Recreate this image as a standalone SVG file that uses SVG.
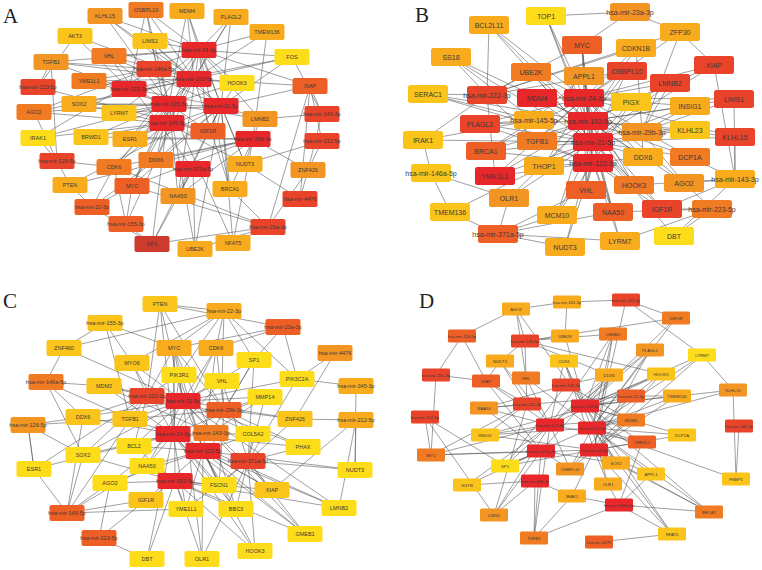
<svg xmlns="http://www.w3.org/2000/svg" xmlns:xlink="http://www.w3.org/1999/xlink" width="762" height="570" viewBox="0 0 762 570">
<style>
.r1{fill:#e8272a}.r2{fill:#e9432a}.o1{fill:#ee5f25}.o2{fill:#f07b22}.o3{fill:#f39523}.y1{fill:#f8ab1d}.y2{fill:#fbc41b}.y3{fill:#fddc19}.sp{fill:#cc3b2c}
text{font-family:"Liberation Sans",Arial,sans-serif;text-anchor:middle;fill:#3a3a3a}
.tA{font-size:5.5px}.tB{font-size:7px}.tD{font-size:4.2px}
.lab{font-family:"Liberation Serif","Times New Roman",serif;font-size:21px;fill:#222;text-anchor:start}
#edges path{fill:none;stroke:#505050;stroke-width:.55}
</style>
<defs>
<rect id="bA" x="-17.5" y="-8" width="35" height="16" rx="2"/>
<rect id="bB" x="-20" y="-9" width="40" height="18" rx="2.5"/>
<rect id="bD" x="-14" y="-6.5" width="28" height="13" rx="1.5"/>
</defs>
<rect width="762" height="570" fill="#fff"/>
<text class="lab" x="3" y="23">A</text>
<text class="lab" x="415" y="22">B</text>
<text class="lab" x="3" y="308">C</text>
<text class="lab" x="419" y="308">D</text>
<g id="edges">
<path id="edgesA" d="M105 16L194 79M105 16L169 104M105 16L221 106M105 16L199 50
M146 10L199 50M146 10L194 79M146 10L169 104M146 10L167 123M146 10L129 89
M187 11L199 50M187 11L194 79M187 11L221 106M187 11L169 104
M231 17L199 50M231 17L194 79M231 17L221 106M231 17L167 123
M75 36L38 87M75 36L129 89M75 36L194 79
M150 41L199 50M150 41L169 104M150 41L221 106M150 41L194 79
M267 32L199 50M267 32L194 79M267 32L253 139
M292 57L199 50M292 57L194 79M292 57L221 106M292 57L129 89M292 57L322 114
M109 56L199 50M109 56L194 79M109 56L169 104M109 56L221 106M109 56L193 169
M51 62L199 50M51 62L194 79M51 62L154 69M51 62L38 87M51 62L169 104
M89 81L194 79M89 81L169 104M89 81L221 106M89 81L154 69
M237 83L199 50M237 83L194 79M237 83L169 104M237 83L221 106
M310 86L199 50M310 86L194 79M310 86L322 114M310 86L322 141M310 86L221 106
M79 104L194 79M79 104L169 104M79 104L167 123M79 104L221 106
M34 112L194 79M34 112L169 104M34 112L199 50M34 112L167 123
M119 113L199 50M119 113L169 104M119 113L221 106
M260 119L199 50M260 119L169 104M260 119L221 106M260 119L253 139M260 119L322 114
M208 131L199 50M208 131L169 104M208 131L221 106M208 131L167 123M208 131L38 87
M38 138L154 69M38 138L167 123M38 138L169 104
M91 137L169 104M91 137L167 123M91 137L253 139
M130 139L199 50M130 139L194 79M130 139L221 106M130 139L167 123M130 139L253 139
M156 160L199 50M156 160L169 104M156 160L221 106M156 160L194 79M156 160L253 139
M114 167L253 139M114 167L169 104M114 167L167 123M114 167L194 79M114 167L57 161
M245 164L199 50M245 164L253 139M245 164L221 106M245 164L167 123M245 164L322 141
M308 170L253 139M308 170L322 114M308 170L322 141M308 170L300 199
M70 185L221 106M70 185L253 139M70 185L92 207M70 185L57 161
M132 186L199 50M132 186L169 104M132 186L221 106M132 186L167 123M132 186L253 139M132 186L92 207M132 186L126 224
M230 189L199 50M230 189L221 106M230 189L194 79M230 189L253 139M230 189L268 227
M178 196L199 50M178 196L169 104M178 196L221 106M178 196L253 139M178 196L193 169
M152 244L92 207M152 244L126 224M152 244L221 106M152 244L169 104M152 244L193 169M152 244L268 227
M195 249L221 106M195 249L169 104M195 249L193 169M195 249L268 227
M233 243L221 106M233 243L169 104M233 243L253 139M233 243L268 227
M300 199L310 86M300 199L245 164
M268 227L310 86M268 227L114 167M268 227L132 186M268 227L308 170
M57 161L51 62M57 161L34 112M57 161L38 138
M92 207L114 167M92 207L156 160M126 224L156 160M126 224L114 167"/>
<path id="edgesB" d="M546 16L630 12M546 16L584 98M546 16L588 121M546 16L593 142
M630 12L680 32M630 12L582 45
M680 32L584 98M680 32L642 132M680 32L487 95M680 32L714 65
M489 25L487 95M489 25L584 98M489 25L588 121M489 25L593 142
M582 45L584 98M582 45L588 121M582 45L593 142M582 45L593 163M582 45L487 95
M636 48L487 95M636 48L584 98M636 48L588 121M636 48L642 132
M451 57L487 95M451 57L588 121M451 57L593 142M451 57L534 120
M714 65L584 98M714 65L588 121M714 65L735 179M714 65L593 142
M531 72L584 98M531 72L588 121M531 72L593 142M531 72L487 95
M584 76L588 121M584 76L593 142M584 76L593 163M584 76L534 120
M627 71L584 98M627 71L588 121M627 71L593 142M627 71L487 95
M670 83L584 98M670 83L588 121M670 83L593 142M670 83L642 132
M428 94L588 121M428 94L593 142M428 94L534 120M428 94L487 95
M537 98L584 98M537 98L588 121M537 98L593 142
M631 102L584 98M631 102L588 121M631 102L593 142M631 102L593 163
M734 99L584 98M734 99L588 121M734 99L735 179M734 99L642 132
M690 106L584 98M690 106L588 121M690 106L593 142M690 106L642 132
M480 124L584 98M480 124L588 121M480 124L593 142M480 124L593 163M480 124L534 120
M690 130L588 121M690 130L593 142M690 130L642 132
M735 137L584 98M735 137L588 121M735 137L593 142M735 137L735 179
M423 140L487 95M423 140L534 120M423 140L431 173M423 140L593 142
M537 141L584 98M537 141L588 121M537 141L593 142M537 141L593 163M537 141L487 95
M486 151L584 98M486 151L588 121M486 151L593 142M486 151L593 163M486 151L534 120
M643 157L584 98M643 157L588 121M643 157L593 142M643 157L593 163M643 157L642 132
M690 157L584 98M690 157L588 121M690 157L593 142M690 157L735 179
M544 166L584 98M544 166L588 121M544 166L593 142M544 166L593 163
M495 176L584 98M495 176L588 121M495 176L593 142M495 176L593 163M495 176L487 95
M634 185L584 98M634 185L588 121M634 185L593 142M634 185L593 163M634 185L735 179
M684 183L584 98M684 183L588 121M684 183L735 179M684 183L712 209M684 183L642 132
M586 190L584 98M586 190L588 121M586 190L593 142M586 190L593 163M586 190L498 234
M509 198L588 121M509 198L593 142M509 198L498 234M509 198L431 173
M450 212L431 173M450 212L498 234M450 212L593 142
M557 215L498 234M557 215L593 163M557 215L593 142M557 215L588 121
M613 212L584 98M613 212L593 163M613 212L593 142M613 212L498 234M613 212L712 209
M662 209L588 121M662 209L593 142M662 209L712 209M662 209L735 179M662 209L593 163
M565 247L498 234M565 247L593 163M565 247L593 142
M620 241L498 234M620 241L593 163M620 241L712 209M620 241L593 142
M674 236L712 209M674 236L735 179M674 236L593 142"/>
<path id="edgesC" d="M160 304L224 311M160 304L183 401M160 304L147 396M160 304L224 410M160 304L173 434M160 304L283 327
M224 311L174 348M224 311L216 348M224 311L254 360M224 311L179 375M224 311L222 381M224 311L297 379M224 311L64 348M224 311L132 363
M105 323L64 348M105 323L174 348M105 323L132 363M105 323L130 419
M283 327L216 348M283 327L297 379M283 327L254 360M283 327L174 348
M64 348L46 382M64 348L183 401M335 353L295 419M356 386L355 470M356 386L297 379
M174 348L183 401M174 348L147 396M174 348L224 410M174 348L173 434M174 348L203 451M174 348L211 433M174 348L175 481
M216 348L183 401M216 348L224 410M216 348L173 434M216 348L203 451
M132 363L183 401M132 363L147 396M132 363L173 434
M254 360L183 401M254 360L224 410M254 360L211 433M254 360L248 461
M179 375L183 401M179 375L147 396M179 375L173 434M179 375L203 451
M222 381L183 401M222 381L224 410M222 381L173 434M222 381L248 461
M297 379L183 401M297 379L248 461M297 379L335 353
M46 382L104 386M46 382L83 417M46 382L83 455M46 382L130 419
M104 386L183 401M104 386L147 396M104 386L173 434M104 386L211 433
M265 397L183 401M265 397L224 410M265 397L173 434M265 397L211 433M265 397L248 461
M83 417L183 401M83 417L147 396M83 417L173 434M83 417L28 425M83 417L67 513
M130 419L183 401M130 419L147 396M130 419L173 434M130 419L224 410M130 419L67 513
M295 419L356 420M295 419L183 401M295 419L224 410M295 419L248 461
M356 420L355 470M356 420L272 490M356 420L339 508
M28 425L83 455M28 425L34 469M28 425L130 419
M253 434L183 401M253 434L224 410M253 434L173 434M253 434L203 451M253 434L248 461
M134 446L183 401M134 446L173 434M134 446L203 451M134 446L175 481M134 446L147 396
M303 447L183 401M303 447L224 410M303 447L173 434M303 447L248 461
M83 455L183 401M83 455L147 396M83 455L173 434M83 455L67 513M83 455L175 481
M34 469L28 425M34 469L67 513M34 469L147 396M34 469L173 434
M147 466L183 401M147 466L173 434M147 466L203 451M147 466L175 481M147 466L67 513
M355 470L248 461M355 470L203 451
M110 483L173 434M110 483L203 451M110 483L175 481M110 483L67 513M110 483L99 538
M219 485L183 401M219 485L173 434M219 485L203 451M219 485L175 481M219 485L248 461M219 485L224 410
M272 490L183 401M272 490L173 434M272 490L203 451M272 490L175 481M272 490L248 461
M146 500L175 481M146 500L99 538M146 500L203 451M146 500L67 513
M186 509L173 434M186 509L203 451M186 509L175 481M186 509L67 513M186 509L248 461
M236 509L173 434M236 509L203 451M236 509L175 481M236 509L248 461M236 509L211 433
M339 508L183 401M339 508L173 434M339 508L203 451M339 508L175 481
M305 534L173 434M305 534L203 451M305 534L175 481M305 534L183 401M305 534L248 461
M255 551L203 451M255 551L175 481M255 551L248 461M255 551L173 434
M147 559L175 481M147 559L99 538M147 559L173 434
M202 559L203 451M202 559L175 481M202 559L183 401M202 559L248 461"/>
<path id="edgesD" d="M516 309L567 302M516 309L462 336M516 309L525 341M516 309L526 378M516 309L585 406
M567 302L626 300M567 302L565 336M626 300L676 318M626 300L702 355M626 300L609 375
M676 318L525 341M676 318L585 406M676 318L592 428M462 336L436 375M462 336L486 381
M565 336L525 341M565 336L585 406
M613 334L525 341M613 334L585 406M613 334L592 428M613 334L594 450M613 334L550 425
M525 341L500 361M525 341L526 378M525 341L609 375M525 341L661 374
M650 350L585 406M650 350L592 428M650 350L594 450M650 350L550 425
M702 355L592 428M702 355L594 450M702 355L585 406M702 355L733 390
M500 361L527 404M500 361L550 425M500 361L486 381
M564 361L585 406M564 361L592 428M564 361L550 425M564 361L594 450
M436 375L486 381M436 375L431 455
M609 375L585 406M609 375L592 428M609 375L594 450M609 375L550 425M609 375L541 451
M661 374L585 406M661 374L592 428M661 374L594 450M661 374L550 425
M486 381L527 404M486 381L550 425M486 381L541 451
M526 378L527 404M526 378L550 425M526 378L592 428
M566 385L609 375M566 385L631 420M566 385L484 408M566 385L505 466
M733 390L592 428M733 390L736 479M733 390L585 406
M631 396L677 396M631 396L484 408M631 396L485 435M631 396L570 469
M677 396L585 406M677 396L592 428M677 396L594 450
M484 408L527 404M484 408L550 425M484 408L541 451
M425 417L431 455M425 417L505 466M425 417L494 515
M631 420L585 406M631 420L592 428M631 420L594 450M631 420L550 425
M739 426L736 479
M485 435L527 404M485 435L550 425M485 435L592 428M485 435L594 450
M682 435L592 428M682 435L594 450M682 435L585 406
M642 442L592 428M642 442L594 450M642 442L585 406M642 442L550 425M642 442L619 505
M431 455L541 451M431 455L594 450M431 455L527 404M431 455L550 425
M505 466L541 451M505 466L592 428M505 466L594 450M505 466L550 425
M616 463L592 428M616 463L594 450M616 463L585 406M616 463L541 451
M570 469L541 451M570 469L592 428M570 469L594 450M570 469L550 425
M651 474L592 428M651 474L594 450M651 474L619 505
M736 479L592 428
M467 485L535 481M467 485L541 451M467 485L550 425
M608 484L619 505M608 484L594 450M608 484L592 428
M572 496L535 481M572 496L619 505M572 496L594 450
M619 505L709 512M619 505L534 538M619 505L672 534
M709 512L594 450M709 512L592 428M709 512L585 406M709 512L616 463
M494 515L535 481M494 515L541 451M494 515L550 425M494 515L527 404
M672 534L599 542M672 534L592 428M672 534L594 450M672 534L585 406
M534 538L535 481M534 538L541 451M534 538L550 425M534 538L572 496"/>
</g>
<g id="nodesA">
<g id="A-KLHL15" transform="translate(105,16)"><use href="#bA" class="o3"/><text class="tA" y="2">KLHL15</text></g>
<g id="A-OSBPL10" transform="translate(146,10)"><use href="#bA" class="o2"/><text class="tA" y="2">OSBPL10</text></g>
<g id="A-MDM4" transform="translate(187,11)"><use href="#bA" class="y1"/><text class="tA" y="2">MDM4</text></g>
<g id="A-PLAGL2" transform="translate(231,17)"><use href="#bA" class="y1"/><text class="tA" y="2">PLAGL2</text></g>
<g id="A-AKT3" transform="translate(75,36)"><use href="#bA" class="y2"/><text class="tA" y="2">AKT3</text></g>
<g id="A-LIMS1" transform="translate(150,41)"><use href="#bA" class="y2"/><text class="tA" y="2">LIMS1</text></g>
<g id="A-TMEM136" transform="translate(267,32)"><use href="#bA" class="y1"/><text class="tA" y="2">TMEM136</text></g>
<g id="A-mir24" transform="translate(199,50)"><use href="#bA" class="r1"/><text class="tA" y="2">hsa-mir-24-3p</text></g>
<g id="A-FOS" transform="translate(292,57)"><use href="#bA" class="y3"/><text class="tA" y="2">FOS</text></g>
<g id="A-VHL" transform="translate(109,56)"><use href="#bA" class="o2"/><text class="tA" y="2">VHL</text></g>
<g id="A-TGFB1" transform="translate(51,62)"><use href="#bA" class="o3"/><text class="tA" y="2">TGFB1</text></g>
<g id="A-mir146a" transform="translate(154,69)"><use href="#bA" class="r2"/><text class="tA" y="2">hsa-mir-146a-5p</text></g>
<g id="A-mir192" transform="translate(194,79)"><use href="#bA" class="r1"/><text class="tA" y="2">hsa-mir-192-5p</text></g>
<g id="A-YME1L1" transform="translate(89,81)"><use href="#bA" class="o2"/><text class="tA" y="2">YME1L1</text></g>
<g id="A-mir223" transform="translate(38,87)"><use href="#bA" class="r2"/><text class="tA" y="2">hsa-mir-223-5p</text></g>
<g id="A-mir222" transform="translate(129,89)"><use href="#bA" class="r1"/><text class="tA" y="2">hsa-mir-222-3p</text></g>
<g id="A-HOOK3" transform="translate(237,83)"><use href="#bA" class="y3"/><text class="tA" y="2">HOOK3</text></g>
<g id="A-XIAP" transform="translate(310,86)"><use href="#bA" class="o1"/><text class="tA" y="2">XIAP</text></g>
<g id="A-SOX2" transform="translate(79,104)"><use href="#bA" class="y1"/><text class="tA" y="2">SOX2</text></g>
<g id="A-AGO2" transform="translate(34,112)"><use href="#bA" class="o2"/><text class="tA" y="2">AGO2</text></g>
<g id="A-LYRM7" transform="translate(119,113)"><use href="#bA" class="y2"/><text class="tA" y="2">LYRM7</text></g>
<g id="A-mir122" transform="translate(169,104)"><use href="#bA" class="r1"/><text class="tA" y="2">hsa-mir-122-5p</text></g>
<g id="A-mir21" transform="translate(221,106)"><use href="#bA" class="r1"/><text class="tA" y="2">hsa-mir-21-5p</text></g>
<g id="A-LMNB2" transform="translate(260,119)"><use href="#bA" class="o3"/><text class="tA" y="2">LMNB2</text></g>
<g id="A-mir143" transform="translate(322,114)"><use href="#bA" class="r2"/><text class="tA" y="2">hsa-mir-143-3p</text></g>
<g id="A-mir145" transform="translate(167,123)"><use href="#bA" class="r1"/><text class="tA" y="2">hsa-mir-145-5p</text></g>
<g id="A-IGF1R" transform="translate(208,131)"><use href="#bA" class="o1"/><text class="tA" y="2">IGF1R</text></g>
<g id="A-IRAK1" transform="translate(38,138)"><use href="#bA" class="y3"/><text class="tA" y="2">IRAK1</text></g>
<g id="A-BRWD1" transform="translate(91,137)"><use href="#bA" class="y2"/><text class="tA" y="2">BRWD1</text></g>
<g id="A-ESR1" transform="translate(130,139)"><use href="#bA" class="y1"/><text class="tA" y="2">ESR1</text></g>
<g id="A-mir29b" transform="translate(253,139)"><use href="#bA" class="r1"/><text class="tA" y="2">hsa-mir-29b-3p</text></g>
<g id="A-mir212" transform="translate(322,141)"><use href="#bA" class="r2"/><text class="tA" y="2">hsa-mir-212-5p</text></g>
<g id="A-mir126" transform="translate(57,161)"><use href="#bA" class="r2"/><text class="tA" y="2">hsa-mir-126-5p</text></g>
<g id="A-DDX6" transform="translate(156,160)"><use href="#bA" class="o2"/><text class="tA" y="2">DDX6</text></g>
<g id="A-CDK6" transform="translate(114,167)"><use href="#bA" class="o2"/><text class="tA" y="2">CDK6</text></g>
<g id="A-mir371a" transform="translate(193,169)"><use href="#bA" class="r1"/><text class="tA" y="2">hsa-mir-371a-5p</text></g>
<g id="A-NUDT3" transform="translate(245,164)"><use href="#bA" class="y1"/><text class="tA" y="2">NUDT3</text></g>
<g id="A-ZNF426" transform="translate(308,170)"><use href="#bA" class="o3"/><text class="tA" y="2">ZNF426</text></g>
<g id="A-PTEN" transform="translate(70,185)"><use href="#bA" class="y1"/><text class="tA" y="2">PTEN</text></g>
<g id="A-MYC" transform="translate(132,186)"><use href="#bA" class="o1"/><text class="tA" y="2">MYC</text></g>
<g id="A-BRCA1" transform="translate(230,189)"><use href="#bA" class="y1"/><text class="tA" y="2">BRCA1</text></g>
<g id="A-NAA50" transform="translate(178,196)"><use href="#bA" class="o3"/><text class="tA" y="2">NAA50</text></g>
<g id="A-mir4476" transform="translate(300,199)"><use href="#bA" class="r2"/><text class="tA" y="2">hsa-mir-4476</text></g>
<g id="A-mir22" transform="translate(92,207)"><use href="#bA" class="o1"/><text class="tA" y="2">hsa-mir-22-3p</text></g>
<g id="A-mir155" transform="translate(126,224)"><use href="#bA" class="o1"/><text class="tA" y="2">hsa-mir-155-3p</text></g>
<g id="A-mir23a" transform="translate(268,227)"><use href="#bA" class="r2"/><text class="tA" y="2">hsa-mir-23a-3p</text></g>
<g id="A-SP1" transform="translate(152,244)"><use href="#bA" class="sp"/><text class="tA" y="2">SP1</text></g>
<g id="A-UBE2K" transform="translate(195,249)"><use href="#bA" class="y1"/><text class="tA" y="2">UBE2K</text></g>
<g id="A-NFAT5" transform="translate(233,243)"><use href="#bA" class="y1"/><text class="tA" y="2">NFAT5</text></g>
</g>
<g id="nodesB">
<g id="B-TOP1" transform="translate(546,16)"><use href="#bB" class="y3"/><text class="tB" y="2.5">TOP1</text></g>
<g id="B-mir23a" transform="translate(630,12)"><use href="#bB" class="o3"/><text class="tB" y="2.5">hsa-mir-23a-3p</text></g>
<g id="B-BCL2L11" transform="translate(489,25)"><use href="#bB" class="y1"/><text class="tB" y="2.5">BCL2L11</text></g>
<g id="B-ZFP30" transform="translate(680,32)"><use href="#bB" class="y1"/><text class="tB" y="2.5">ZFP30</text></g>
<g id="B-MYC" transform="translate(582,45)"><use href="#bB" class="o1"/><text class="tB" y="2.5">MYC</text></g>
<g id="B-CDKN1B" transform="translate(636,48)"><use href="#bB" class="y1"/><text class="tB" y="2.5">CDKN1B</text></g>
<g id="B-SS18" transform="translate(451,57)"><use href="#bB" class="y1"/><text class="tB" y="2.5">SS18</text></g>
<g id="B-XIAP" transform="translate(714,65)"><use href="#bB" class="r2"/><text class="tB" y="2.5">XIAP</text></g>
<g id="B-UBE2K" transform="translate(531,72)"><use href="#bB" class="o2"/><text class="tB" y="2.5">UBE2K</text></g>
<g id="B-APPL1" transform="translate(584,76)"><use href="#bB" class="o3"/><text class="tB" y="2.5">APPL1</text></g>
<g id="B-OSBPL10" transform="translate(627,71)"><use href="#bB" class="r2"/><text class="tB" y="2.5">OSBPL10</text></g>
<g id="B-LMNB2" transform="translate(670,83)"><use href="#bB" class="r2"/><text class="tB" y="2.5">LMNB2</text></g>
<g id="B-SERAC1" transform="translate(428,94)"><use href="#bB" class="y2"/><text class="tB" y="2.5">SERAC1</text></g>
<g id="B-mir222" transform="translate(487,95)"><use href="#bB" class="r2"/><text class="tB" y="2.5">hsa-mir-222-3p</text></g>
<g id="B-MDM4" transform="translate(537,98)"><use href="#bB" class="r1"/><text class="tB" y="2.5">MDM4</text></g>
<g id="B-mir24" transform="translate(584,98)"><use href="#bB" class="r1"/><text class="tB" y="2.5">hsa-mir-24-3p</text></g>
<g id="B-PIGX" transform="translate(631,102)"><use href="#bB" class="y2"/><text class="tB" y="2.5">PIGX</text></g>
<g id="B-LIMS1" transform="translate(734,99)"><use href="#bB" class="r2"/><text class="tB" y="2.5">LIMS1</text></g>
<g id="B-INSIG1" transform="translate(690,106)"><use href="#bB" class="y1"/><text class="tB" y="2.5">INSIG1</text></g>
<g id="B-mir145" transform="translate(534,120)"><use href="#bB" class="y1"/><text class="tB" y="2.5">hsa-mir-145-5p</text></g>
<g id="B-mir192" transform="translate(588,121)"><use href="#bB" class="r1"/><text class="tB" y="2.5">hsa-mir-192-5p</text></g>
<g id="B-PLAGL2" transform="translate(480,124)"><use href="#bB" class="r2"/><text class="tB" y="2.5">PLAGL2</text></g>
<g id="B-mir29b" transform="translate(642,132)"><use href="#bB" class="o3"/><text class="tB" y="2.5">hsa-mir-29b-3p</text></g>
<g id="B-KLHL23" transform="translate(690,130)"><use href="#bB" class="y2"/><text class="tB" y="2.5">KLHL23</text></g>
<g id="B-KLHL15" transform="translate(735,137)"><use href="#bB" class="r2"/><text class="tB" y="2.5">KLHL15</text></g>
<g id="B-IRAK1" transform="translate(423,140)"><use href="#bB" class="y2"/><text class="tB" y="2.5">IRAK1</text></g>
<g id="B-TGFB1" transform="translate(537,141)"><use href="#bB" class="o2"/><text class="tB" y="2.5">TGFB1</text></g>
<g id="B-mir21" transform="translate(593,142)"><use href="#bB" class="r1"/><text class="tB" y="2.5">hsa-mir-21-5p</text></g>
<g id="B-BRCA1" transform="translate(486,151)"><use href="#bB" class="o1"/><text class="tB" y="2.5">BRCA1</text></g>
<g id="B-DDX6" transform="translate(643,157)"><use href="#bB" class="y1"/><text class="tB" y="2.5">DDX6</text></g>
<g id="B-DCP1A" transform="translate(690,157)"><use href="#bB" class="o2"/><text class="tB" y="2.5">DCP1A</text></g>
<g id="B-THOP1" transform="translate(544,166)"><use href="#bB" class="y1"/><text class="tB" y="2.5">THOP1</text></g>
<g id="B-mir122" transform="translate(593,163)"><use href="#bB" class="r1"/><text class="tB" y="2.5">hsa-mir-122-5p</text></g>
<g id="B-mir146a" transform="translate(431,173)"><use href="#bB" class="y2"/><text class="tB" y="2.5">hsa-mir-146a-5p</text></g>
<g id="B-YME1L1" transform="translate(495,176)"><use href="#bB" class="r1"/><text class="tB" y="2.5">YME1L1</text></g>
<g id="B-mir143" transform="translate(735,179)"><use href="#bB" class="y1"/><text class="tB" y="2.5">hsa-mir-143-3p</text></g>
<g id="B-HOOK3" transform="translate(634,185)"><use href="#bB" class="o2"/><text class="tB" y="2.5">HOOK3</text></g>
<g id="B-AGO2" transform="translate(684,183)"><use href="#bB" class="o3"/><text class="tB" y="2.5">AGO2</text></g>
<g id="B-VHL" transform="translate(586,190)"><use href="#bB" class="o1"/><text class="tB" y="2.5">VHL</text></g>
<g id="B-OLR1" transform="translate(509,198)"><use href="#bB" class="o3"/><text class="tB" y="2.5">OLR1</text></g>
<g id="B-TMEM136" transform="translate(450,212)"><use href="#bB" class="y2"/><text class="tB" y="2.5">TMEM136</text></g>
<g id="B-MCM10" transform="translate(557,215)"><use href="#bB" class="y1"/><text class="tB" y="2.5">MCM10</text></g>
<g id="B-NAA50" transform="translate(613,212)"><use href="#bB" class="o1"/><text class="tB" y="2.5">NAA50</text></g>
<g id="B-IGF1R" transform="translate(662,209)"><use href="#bB" class="r2"/><text class="tB" y="2.5">IGF1R</text></g>
<g id="B-mir223" transform="translate(712,209)"><use href="#bB" class="o2"/><text class="tB" y="2.5">hsa-mir-223-5p</text></g>
<g id="B-mir371a" transform="translate(498,234)"><use href="#bB" class="o1"/><text class="tB" y="2.5">hsa-mir-371a-5p</text></g>
<g id="B-NUDT3" transform="translate(565,247)"><use href="#bB" class="y1"/><text class="tB" y="2.5">NUDT3</text></g>
<g id="B-LYRM7" transform="translate(620,241)"><use href="#bB" class="y1"/><text class="tB" y="2.5">LYRM7</text></g>
<g id="B-DBT" transform="translate(674,236)"><use href="#bB" class="y3"/><text class="tB" y="2.5">DBT</text></g>
</g>
<g id="nodesC">
<g id="C-PTEN" transform="translate(160,304)"><use href="#bA" class="y2"/><text class="tA" y="2">PTEN</text></g>
<g id="C-mir22" transform="translate(224,311)"><use href="#bA" class="y1"/><text class="tA" y="2">hsa-mir-22-3p</text></g>
<g id="C-mir155" transform="translate(105,323)"><use href="#bA" class="y2"/><text class="tA" y="2">hsa-mir-155-3p</text></g>
<g id="C-mir23a" transform="translate(283,327)"><use href="#bA" class="o1"/><text class="tA" y="2">hsa-mir-23a-3p</text></g>
<g id="C-ZNF460" transform="translate(64,348)"><use href="#bA" class="y2"/><text class="tA" y="2">ZNF460</text></g>
<g id="C-MYC" transform="translate(174,348)"><use href="#bA" class="y1"/><text class="tA" y="2">MYC</text></g>
<g id="C-CDK6" transform="translate(216,348)"><use href="#bA" class="y1"/><text class="tA" y="2">CDK6</text></g>
<g id="C-mir4476" transform="translate(335,353)"><use href="#bA" class="o3"/><text class="tA" y="2">hsa-mir-4476</text></g>
<g id="C-MYO6" transform="translate(132,363)"><use href="#bA" class="y2"/><text class="tA" y="2">MYO6</text></g>
<g id="C-SP1" transform="translate(254,360)"><use href="#bA" class="y3"/><text class="tA" y="2">SP1</text></g>
<g id="C-PIK3R1" transform="translate(179,375)"><use href="#bA" class="y3"/><text class="tA" y="2">PIK3R1</text></g>
<g id="C-VHL" transform="translate(222,381)"><use href="#bA" class="y3"/><text class="tA" y="2">VHL</text></g>
<g id="C-PIK3C2A" transform="translate(297,379)"><use href="#bA" class="y3"/><text class="tA" y="2">PIK3C2A</text></g>
<g id="C-mir146a" transform="translate(46,382)"><use href="#bA" class="o2"/><text class="tA" y="2">hsa-mir-146a-5p</text></g>
<g id="C-mir345" transform="translate(356,386)"><use href="#bA" class="y1"/><text class="tA" y="2">hsa-mir-345-3p</text></g>
<g id="C-MDM2" transform="translate(104,386)"><use href="#bA" class="y2"/><text class="tA" y="2">MDM2</text></g>
<g id="C-mir222" transform="translate(147,396)"><use href="#bA" class="r2"/><text class="tA" y="2">hsa-mir-222-3p</text></g>
<g id="C-mir21" transform="translate(183,401)"><use href="#bA" class="r1"/><text class="tA" y="2">hsa-mir-21-5p</text></g>
<g id="C-MMP14" transform="translate(265,397)"><use href="#bA" class="y3"/><text class="tA" y="2">MMP14</text></g>
<g id="C-mir29b" transform="translate(224,410)"><use href="#bA" class="o1"/><text class="tA" y="2">hsa-mir-29b-3p</text></g>
<g id="C-DDX6" transform="translate(83,417)"><use href="#bA" class="y2"/><text class="tA" y="2">DDX6</text></g>
<g id="C-TGFB1" transform="translate(130,419)"><use href="#bA" class="y2"/><text class="tA" y="2">TGFB1</text></g>
<g id="C-ZNF426" transform="translate(295,419)"><use href="#bA" class="y2"/><text class="tA" y="2">ZNF426</text></g>
<g id="C-mir212" transform="translate(356,420)"><use href="#bA" class="y1"/><text class="tA" y="2">hsa-mir-212-5p</text></g>
<g id="C-mir126" transform="translate(28,425)"><use href="#bA" class="o3"/><text class="tA" y="2">hsa-mir-126-5p</text></g>
<g id="C-mir24" transform="translate(173,434)"><use href="#bA" class="r1"/><text class="tA" y="2">hsa-mir-24-3p</text></g>
<g id="C-mir143" transform="translate(211,433)"><use href="#bA" class="o2"/><text class="tA" y="2">hsa-mir-143-3p</text></g>
<g id="C-COL5A2" transform="translate(253,434)"><use href="#bA" class="y3"/><text class="tA" y="2">COL5A2</text></g>
<g id="C-BCL2" transform="translate(134,446)"><use href="#bA" class="y3"/><text class="tA" y="2">BCL2</text></g>
<g id="C-PHAX" transform="translate(303,447)"><use href="#bA" class="y3"/><text class="tA" y="2">PHAX</text></g>
<g id="C-SOX2" transform="translate(83,455)"><use href="#bA" class="y3"/><text class="tA" y="2">SOX2</text></g>
<g id="C-mir122" transform="translate(203,451)"><use href="#bA" class="r1"/><text class="tA" y="2">hsa-mir-122-5p</text></g>
<g id="C-mir371a" transform="translate(248,461)"><use href="#bA" class="r2"/><text class="tA" y="2">hsa-mir-371a-5p</text></g>
<g id="C-ESR1" transform="translate(34,469)"><use href="#bA" class="y3"/><text class="tA" y="2">ESR1</text></g>
<g id="C-NAA50" transform="translate(147,466)"><use href="#bA" class="y3"/><text class="tA" y="2">NAA50</text></g>
<g id="C-NUDT3" transform="translate(355,470)"><use href="#bA" class="y3"/><text class="tA" y="2">NUDT3</text></g>
<g id="C-AGO2" transform="translate(110,483)"><use href="#bA" class="y3"/><text class="tA" y="2">AGO2</text></g>
<g id="C-mir192" transform="translate(175,481)"><use href="#bA" class="r1"/><text class="tA" y="2">hsa-mir-192-5p</text></g>
<g id="C-FSCN1" transform="translate(219,485)"><use href="#bA" class="y3"/><text class="tA" y="2">FSCN1</text></g>
<g id="C-XIAP" transform="translate(272,490)"><use href="#bA" class="y2"/><text class="tA" y="2">XIAP</text></g>
<g id="C-IGF1R" transform="translate(146,500)"><use href="#bA" class="y2"/><text class="tA" y="2">IGF1R</text></g>
<g id="C-YME1L1" transform="translate(186,509)"><use href="#bA" class="y3"/><text class="tA" y="2">YME1L1</text></g>
<g id="C-BBC3" transform="translate(236,509)"><use href="#bA" class="y3"/><text class="tA" y="2">BBC3</text></g>
<g id="C-LMNB2" transform="translate(339,508)"><use href="#bA" class="y3"/><text class="tA" y="2">LMNB2</text></g>
<g id="C-mir145" transform="translate(67,513)"><use href="#bA" class="o1"/><text class="tA" y="2">hsa-mir-145-5p</text></g>
<g id="C-GMEB1" transform="translate(305,534)"><use href="#bA" class="y3"/><text class="tA" y="2">GMEB1</text></g>
<g id="C-mir223" transform="translate(99,538)"><use href="#bA" class="o1"/><text class="tA" y="2">hsa-mir-223-5p</text></g>
<g id="C-HOOK3" transform="translate(255,551)"><use href="#bA" class="y3"/><text class="tA" y="2">HOOK3</text></g>
<g id="C-DBT" transform="translate(147,559)"><use href="#bA" class="y3"/><text class="tA" y="2">DBT</text></g>
<g id="C-OLR1" transform="translate(202,559)"><use href="#bA" class="y3"/><text class="tA" y="2">OLR1</text></g>
</g>
<g id="nodesD">
<g id="D-AGO2" transform="translate(516,309)"><use href="#bD" class="y1"/><text class="tD" y="1.5">AGO2</text></g>
<g id="D-mir155" transform="translate(567,302)"><use href="#bD" class="y1"/><text class="tD" y="1.5">hsa-mir-155-3p</text></g>
<g id="D-mir223" transform="translate(626,300)"><use href="#bD" class="r2"/><text class="tD" y="1.5">hsa-mir-223-3p</text></g>
<g id="D-IGF1R" transform="translate(676,318)"><use href="#bD" class="o2"/><text class="tD" y="1.5">IGF1R</text></g>
<g id="D-mir126" transform="translate(462,336)"><use href="#bD" class="o1"/><text class="tD" y="1.5">hsa-mir-126-5p</text></g>
<g id="D-UBE2K" transform="translate(565,336)"><use href="#bD" class="y1"/><text class="tD" y="1.5">UBE2K</text></g>
<g id="D-LMNB2" transform="translate(613,334)"><use href="#bD" class="o2"/><text class="tD" y="1.5">LMNB2</text></g>
<g id="D-mir145" transform="translate(525,341)"><use href="#bD" class="r2"/><text class="tD" y="1.5">hsa-mir-145-5p</text></g>
<g id="D-PLAGL2" transform="translate(650,350)"><use href="#bD" class="o3"/><text class="tD" y="1.5">PLAGL2</text></g>
<g id="D-LYRM7" transform="translate(702,355)"><use href="#bD" class="y3"/><text class="tD" y="1.5">LYRM7</text></g>
<g id="D-NUDT3" transform="translate(500,361)"><use href="#bD" class="y1"/><text class="tD" y="1.5">NUDT3</text></g>
<g id="D-CDK6" transform="translate(564,361)"><use href="#bD" class="y2"/><text class="tD" y="1.5">CDK6</text></g>
<g id="D-mir23a" transform="translate(436,375)"><use href="#bD" class="r2"/><text class="tD" y="1.5">hsa-mir-23a-3p</text></g>
<g id="D-DDX6" transform="translate(609,375)"><use href="#bD" class="y1"/><text class="tD" y="1.5">DDX6</text></g>
<g id="D-HOOK3" transform="translate(661,374)"><use href="#bD" class="y2"/><text class="tD" y="1.5">HOOK3</text></g>
<g id="D-XIAP" transform="translate(486,381)"><use href="#bD" class="o1"/><text class="tD" y="1.5">XIAP</text></g>
<g id="D-VHL" transform="translate(526,378)"><use href="#bD" class="o2"/><text class="tD" y="1.5">VHL</text></g>
<g id="D-mir143" transform="translate(566,385)"><use href="#bD" class="r2"/><text class="tD" y="1.5">hsa-mir-143-3p</text></g>
<g id="D-KLHL15" transform="translate(733,390)"><use href="#bD" class="o3"/><text class="tD" y="1.5">KLHL15</text></g>
<g id="D-mir22" transform="translate(631,396)"><use href="#bD" class="o1"/><text class="tD" y="1.5">hsa-mir-22-3p</text></g>
<g id="D-TMEM136" transform="translate(677,396)"><use href="#bD" class="y1"/><text class="tD" y="1.5">TMEM136</text></g>
<g id="D-NAA50" transform="translate(484,408)"><use href="#bD" class="o3"/><text class="tD" y="1.5">NAA50</text></g>
<g id="D-mir222" transform="translate(527,404)"><use href="#bD" class="r2"/><text class="tD" y="1.5">hsa-mir-222-3p</text></g>
<g id="D-mir192" transform="translate(585,406)"><use href="#bD" class="r1"/><text class="tD" y="1.5">hsa-mir-192-5p</text></g>
<g id="D-mir212" transform="translate(425,417)"><use href="#bD" class="r2"/><text class="tD" y="1.5">hsa-mir-212-5p</text></g>
<g id="D-MDM4" transform="translate(631,420)"><use href="#bD" class="o2"/><text class="tD" y="1.5">MDM4</text></g>
<g id="D-mir122" transform="translate(550,425)"><use href="#bD" class="r1"/><text class="tD" y="1.5">hsa-mir-122-5p</text></g>
<g id="D-mir21" transform="translate(592,428)"><use href="#bD" class="r1"/><text class="tD" y="1.5">hsa-mir-21-5p</text></g>
<g id="D-mir345" transform="translate(739,426)"><use href="#bD" class="r2"/><text class="tD" y="1.5">hsa-mir-345-3p</text></g>
<g id="D-INSIG1" transform="translate(485,435)"><use href="#bD" class="y2"/><text class="tD" y="1.5">INSIG1</text></g>
<g id="D-DCP1A" transform="translate(682,435)"><use href="#bD" class="y2"/><text class="tD" y="1.5">DCP1A</text></g>
<g id="D-YME1L1" transform="translate(642,442)"><use href="#bD" class="o1"/><text class="tD" y="1.5">YME1L1</text></g>
<g id="D-MYC" transform="translate(431,455)"><use href="#bD" class="o2"/><text class="tD" y="1.5">MYC</text></g>
<g id="D-mir371a" transform="translate(541,451)"><use href="#bD" class="r1"/><text class="tD" y="1.5">hsa-mir-371a-5p</text></g>
<g id="D-mir24" transform="translate(594,450)"><use href="#bD" class="r1"/><text class="tD" y="1.5">hsa-mir-24-3p</text></g>
<g id="D-SP1" transform="translate(505,466)"><use href="#bD" class="y3"/><text class="tD" y="1.5">SP1</text></g>
<g id="D-SOX2" transform="translate(616,463)"><use href="#bD" class="y1"/><text class="tD" y="1.5">SOX2</text></g>
<g id="D-OSBPL10" transform="translate(570,469)"><use href="#bD" class="o3"/><text class="tD" y="1.5">OSBPL10</text></g>
<g id="D-APPL1" transform="translate(651,474)"><use href="#bD" class="y2"/><text class="tD" y="1.5">APPL1</text></g>
<g id="D-FNBP1" transform="translate(736,479)"><use href="#bD" class="y2"/><text class="tD" y="1.5">FNBP1</text></g>
<g id="D-SGTB" transform="translate(467,485)"><use href="#bD" class="y2"/><text class="tD" y="1.5">SGTB</text></g>
<g id="D-mir29b" transform="translate(535,481)"><use href="#bD" class="r1"/><text class="tD" y="1.5">hsa-mir-29b-3p</text></g>
<g id="D-OLR1" transform="translate(608,484)"><use href="#bD" class="y1"/><text class="tD" y="1.5">OLR1</text></g>
<g id="D-IRAK1" transform="translate(572,496)"><use href="#bD" class="y1"/><text class="tD" y="1.5">IRAK1</text></g>
<g id="D-mir146a" transform="translate(619,505)"><use href="#bD" class="r1"/><text class="tD" y="1.5">hsa-mir-146a-5p</text></g>
<g id="D-BRCA1" transform="translate(709,512)"><use href="#bD" class="o2"/><text class="tD" y="1.5">BRCA1</text></g>
<g id="D-LIMS1" transform="translate(494,515)"><use href="#bD" class="o3"/><text class="tD" y="1.5">LIMS1</text></g>
<g id="D-NFAT5" transform="translate(672,534)"><use href="#bD" class="y2"/><text class="tD" y="1.5">NFAT5</text></g>
<g id="D-TGFB1" transform="translate(534,538)"><use href="#bD" class="o2"/><text class="tD" y="1.5">TGFB1</text></g>
<g id="D-mir4476" transform="translate(599,542)"><use href="#bD" class="o1"/><text class="tD" y="1.5">hsa-mir-4476</text></g>
</g>
</svg>
